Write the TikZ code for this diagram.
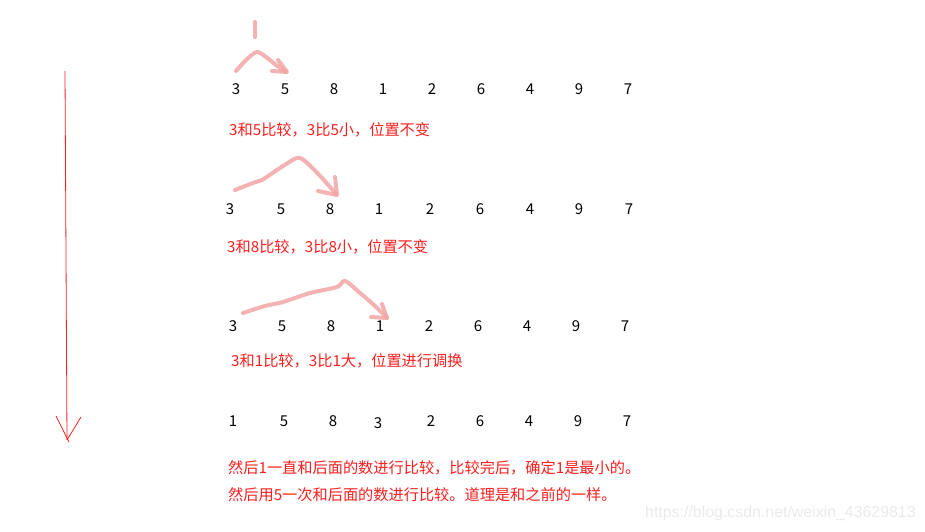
\documentclass[tikz,border=0pt]{standalone}
\usepackage{fontspec}
\usepackage{tikz}
\newfontfamily\cjk{Noto Sans CJK SC}
\newfontfamily\wmfont{Liberation Sans}
\definecolor{notered}{RGB}{250,30,30}
\definecolor{brush}{RGB}{242,165,165}
\definecolor{wmgray}{RGB}{234,234,234}

\begin{document}
\begin{tikzpicture}[x=1pt, y=-1pt,
  num/.style={inner sep=0pt, font=\cjk\fontsize{15}{18}\selectfont},
  note/.style={anchor=west, inner sep=0pt, text=notered, font=\cjk\fontsize{15.2}{18}\selectfont},
  stroke/.style={draw=brush, line width=4pt, line cap=round, line join=round, opacity=.85}]
\useasboundingbox (0,0) rectangle (925,532);

% first row
\node [num] (a1) at (236,89) {3};
\node [num] (a2) at (285,89) {5};
\node [num] (a3) at (334,89) {8};
\node [num] (a4) at (383,89) {1};
\node [num] (a5) at (432,89) {2};
\node [num] (a6) at (481,89) {6};
\node [num] (a7) at (530,89) {4};
\node [num] (a8) at (579,89) {9};
\node [num] (a9) at (628,89) {7};
\node [note] (na) at (229,130) {3和5比较，3比5小，位置不变};

% second row
\node [num] (b1) at (230,209) {3};
\node [num] (b2) at (281,209) {5};
\node [num] (b3) at (330,209) {8};
\node [num] (b4) at (379,209) {1};
\node [num] (b5) at (430,209) {2};
\node [num] (b6) at (480,209) {6};
\node [num] (b7) at (530,209) {4};
\node [num] (b8) at (579,209) {9};
\node [num] (b9) at (629,209) {7};
\node [note] (nb) at (227,247) {3和8比较，3比8小，位置不变};

% third row
\node [num] (c1) at (233,326) {3};
\node [num] (c2) at (282,326) {5};
\node [num] (c3) at (331,326) {8};
\node [num] (c4) at (380,326) {1};
\node [num] (c5) at (429,326) {2};
\node [num] (c6) at (478,326) {6};
\node [num] (c7) at (527,326) {4};
\node [num] (c8) at (576,326) {9};
\node [num] (c9) at (625,326) {7};
\node [note] (nc) at (231,361) {3和1比较，3比1大，位置进行调换};

% fourth row
\node [num] (d1) at (233,421) {1};
\node [num] (d2) at (284,421) {5};
\node [num] (d3) at (333,421) {8};
\node [num] (d4) at (378,423) {3};
\node [num] (d5) at (431,421) {2};
\node [num] (d6) at (480,421) {6};
\node [num] (d7) at (529,421) {4};
\node [num] (d8) at (578,421) {9};
\node [num] (d9) at (627,421) {7};
\node [note] (nd) at (228,468) {然后1一直和后面的数进行比较，比较完后，确定1是最小的。};
\node [note] (ne) at (228,495) {然后用5一次和后面的数进行比较。道理是和之前的一样。};

% brush strokes
\draw [stroke] (255,22) -- (255,37);
\draw [stroke] plot [smooth] coordinates {(236,71) (247,59) (257,52) (266,57) (276,65) (286,72)};
\draw [stroke] (278,60) -- (287,72) -- (272,71);

\draw [stroke] plot [smooth] coordinates {(235,190) (253,183) (262,180) (280,168) (297,158) (306,162) (322,178) (336,194)};
\draw [stroke] (335,177) -- (337,195) -- (318,191);

\draw [stroke] plot [smooth] coordinates {(243,313) (265,306) (283,302) (310,293) (337,287) (345,281) (360,293) (375,306) (387,318)};
\draw [stroke] (382,304) -- (387,318) -- (371,317);

% down arrow
\coordinate (top) at (65,71);
\coordinate (tip) at (67,440);
\draw [notered, line width=.8pt] (top) -- (tip);
\draw [notered, line width=.8pt] (56,416) -- (69,442);
\draw [notered, line width=.8pt] (81,417) -- (67,440);

% watermark
\node [anchor=west, inner sep=0pt, text=wmgray, font=\wmfont\fontsize{15.9}{18}\selectfont] (wm) at (645,513) {https://blog.csdn.net/weixin\_43629813};
\end{tikzpicture}
\end{document}
